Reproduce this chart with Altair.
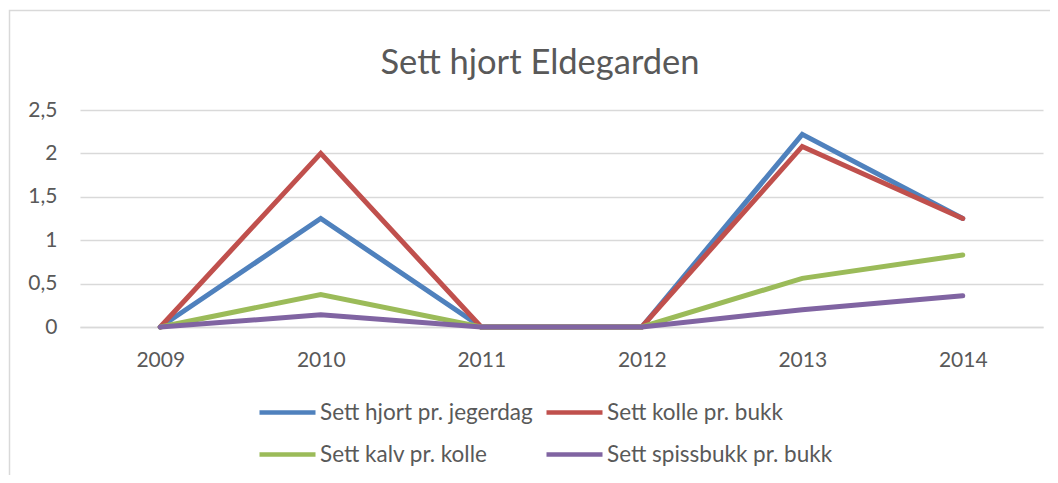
import altair as alt
import pandas as pd

years = ["2009", "2010", "2011", "2012", "2013", "2014"]
series = [
    "Sett hjort pr. jegerdag",
    "Sett kolle pr. bukk",
    "Sett kalv pr. kolle",
    "Sett spissbukk pr. bukk",
]
hjort = [0, 1.25, 0, 0, 2.22, 1.25]
kolle = [0, 2.0, 0, 0, 2.08, 1.25]
kalv = [0, 0.375, 0, 0, 0.56, 0.83]
spiss = [0, 0.14, 0, 0, 0.2, 0.36]
colors = ["#4F81BD", "#C0504D", "#9BBB59", "#8064A2"]
y_ticks = [0, 0.5, 1, 1.5, 2, 2.5]

rows = []
for name, vals in zip(series, [hjort, kolle, kalv, spiss]):
    for yr, v in zip(years, vals):
        rows.append({"year": yr, "serie": name, "value": v})
df = pd.DataFrame(rows)

W, H = 963, 217
TXT = "#595959"
FONT = "Lato"

border = alt.Chart(pd.DataFrame({"k": [0]})).mark_rect(
    fill=None, stroke="#d9d9d9", strokeWidth=1.5
).encode(
    x=alt.value(-70.5), x2=alt.value(1200), y=alt.value(-99.5), y2=alt.value(600)
)

lines = alt.Chart(df).mark_line(strokeWidth=5, strokeCap="round").encode(
    x=alt.X(
        "year:N",
        sort=years,
        scale=alt.Scale(type="point", padding=0.5),
        axis=alt.Axis(
            title=None, labelAngle=0, ticks=False, domainColor="#d9d9d9",
            domainWidth=1.5, labelPadding=22, grid=False,
            labelFont=FONT, labelFontSize=21, labelColor=TXT,
        ),
    ),
    y=alt.Y(
        "value:Q",
        scale=alt.Scale(domain=[0, 2.5], nice=False),
        axis=alt.Axis(
            title=None, values=y_ticks, ticks=False, domain=False, labelPadding=23,
            labelExpr="replace(toString(datum.value), '.', ',')",
            gridColor="#d9d9d9", gridWidth=1.5,
            labelFont=FONT, labelFontSize=21, labelColor=TXT,
        ),
    ),
    color=alt.Color(
        "serie:N",
        sort=series,
        scale=alt.Scale(domain=series, range=colors),
        legend=alt.Legend(
            title=None, orient="none", legendX=177, legendY=272, columns=2,
            direction="horizontal",
            symbolType="stroke", symbolSize=3136, symbolStrokeWidth=4.5,
            labelFontSize=22.5, labelFont=FONT, labelColor=TXT, labelOffset=2,
            labelLimit=500, columnPadding=4, rowPadding=-11, padding=0,
        ),
    ),
)

chart = alt.layer(border, lines).properties(
    width=W,
    height=H,
    title=alt.TitleParams(
        "Sett hjort Eldegarden", fontSize=34.5, font=FONT, fontWeight="normal",
        color=TXT, anchor="middle", dx=-21.5, dy=126, offset=27, baseline="alphabetic",
    ),
    autosize=alt.AutoSizeParams(type="none"),
    padding={"left": 72, "top": 102, "right": 7, "bottom": 148},
).configure_view(stroke=None)

chart.save("out.html", embed_options={"renderer": "svg", "actions": False})
